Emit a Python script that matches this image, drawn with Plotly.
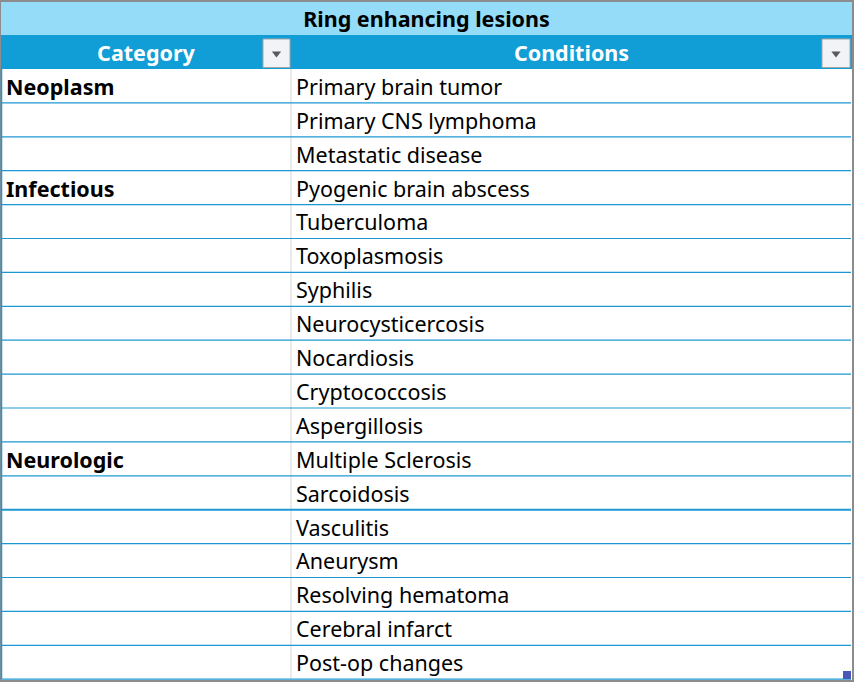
import plotly.graph_objects as go

title = "Ring enhancing lesions"
headers = ["Category", "Conditions"]
categories = ["Neoplasm", "", "", "Infectious", "", "", "", "", "", "", "",
              "Neurologic", "", "", "", "", "", ""]
conditions = ["Primary brain tumor", "Primary CNS lymphoma", "Metastatic disease",
              "Pyogenic brain abscess", "Tuberculoma", "Toxoplasmosis", "Syphilis",
              "Neurocysticercosis", "Nocardiosis", "Cryptococcosis", "Aspergillosis",
              "Multiple Sclerosis", "Sarcoidosis", "Vasculitis", "Aneurysm",
              "Resolving hematoma", "Cerebral infarct", "Post-op changes"]

W, H = 854, 682
row_h = 33.9
top_data = 69
n = len(conditions)
x_left, x_mid, x_right = 1, 291, 852
font = "Noto Sans"
fs = 21.5
dy = 3.5 / row_h  # text sits a little low in its cell

def row_of(py):
    # pixel -> row units (row i centred on integer i)
    return (py - top_data) / row_h - 0.5

y_top = row_of(0)
y_bot = row_of(H)
rows = list(range(n))
text_rows = [r + dy for r in rows]

fig = go.Figure()

shapes = []
# white sheet inside the grey frame
shapes.append(dict(type="rect", x0=x_left, x1=x_right, y0=row_of(2), y1=row_of(680),
                   fillcolor="white", line=dict(width=0), layer="below"))
# title band
shapes.append(dict(type="rect", x0=x_left, x1=x_right, y0=row_of(2), y1=-1.5,
                   fillcolor="#94DCF7", line=dict(width=0), layer="below"))
# header band
shapes.append(dict(type="rect", x0=x_left, x1=x_right, y0=-1.5, y1=-0.5,
                   fillcolor="#119DD5", line=dict(width=0), layer="below"))
# filter buttons
for bx0, bx1 in [(263, 290), (822, 850)]:
    shapes.append(dict(type="rect", x0=bx0, x1=bx1, y0=row_of(39), y1=row_of(67.5),
                       fillcolor="#F1F3F6", line=dict(color="#A6A6A6", width=1), layer="below"))
# column divider
shapes.append(dict(type="line", x0=x_mid, x1=x_mid, y0=-0.5, y1=n - 0.5,
                   line=dict(color="#D6D6D6", width=1)))
# row separators (thicker where groups split)
thick_after = {12}
for i in rows:
    shapes.append(dict(type="line", x0=x_left, x1=x_right - 1, y0=i + 0.5, y1=i + 0.5,
                       line=dict(color="#1E98D3", width=2 if i in thick_after else 1.2)))
# left edge of table body
shapes.append(dict(type="line", x0=x_left + 0.5, x1=x_left + 0.5, y0=-0.5, y1=n - 0.5,
                   line=dict(color="#1E98D3", width=1.5)))
# resize handle
shapes.append(dict(type="rect", x0=843, x1=851, y0=row_of(671), y1=row_of(679),
                   fillcolor="#4858B8", line=dict(width=0)))

# title
fig.add_trace(go.Scatter(x=[(x_left + x_right) / 2], y=[-2 + dy], mode="text",
                         text=[f"<b>{title}</b>"],
                         textposition="middle center", hoverinfo="skip",
                         textfont=dict(family=font, size=fs, color="black")))
# headers
fig.add_trace(go.Scatter(x=[(x_left + x_mid) / 2, (x_mid + x_right) / 2], y=[-1 + dy] * 2,
                         mode="text", text=[f"<b>{h}</b>" for h in headers],
                         textposition="middle center", hoverinfo="skip",
                         textfont=dict(family=font, size=fs, color="white")))
# filter arrows
fig.add_trace(go.Scatter(x=[276.5, 836], y=[row_of(53.5)] * 2, mode="markers", hoverinfo="skip",
                         marker=dict(symbol="triangle-down", size=8, color="#5A5A5A")))
# category column
fig.add_trace(go.Scatter(x=[6] * n, y=text_rows, mode="text",
                         text=[f"<b>{c}</b>" if c else "" for c in categories],
                         textposition="middle right", hoverinfo="skip",
                         textfont=dict(family=font, size=fs, color="black")))
# conditions column
fig.add_trace(go.Scatter(x=[296] * n, y=text_rows, mode="text", text=conditions,
                         textposition="middle right", hoverinfo="skip",
                         textfont=dict(family=font, size=fs, color="black")))

fig.update_layout(
    width=W, height=H, margin=dict(l=0, r=0, t=0, b=0),
    paper_bgcolor="#8C8C8C", plot_bgcolor="#8C8C8C",
    showlegend=False, shapes=shapes,
    xaxis=dict(range=[0, W], visible=False, fixedrange=True),
    yaxis=dict(range=[y_bot, y_top], visible=False, fixedrange=True),
)

fig.write_html("out.html", config={"displayModeBar": False},
               post_script="document.body.style.margin='0';")
